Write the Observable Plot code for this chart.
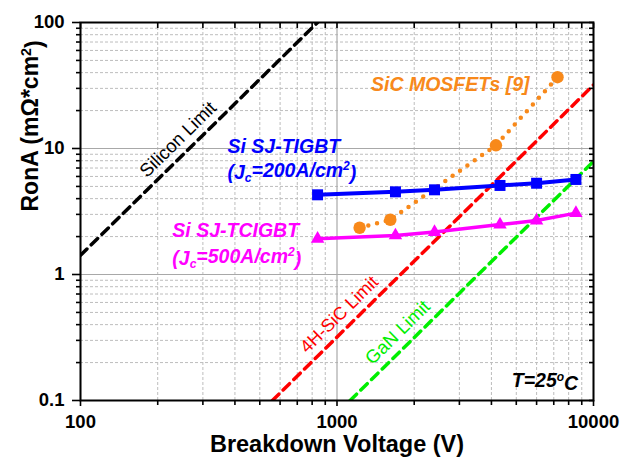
<!DOCTYPE html>
<html>
<head>
<meta charset="utf-8">
<script src="https://cdn.jsdelivr.net/npm/d3@7"></script>
<script src="https://cdn.jsdelivr.net/npm/@observablehq/plot@0.6"></script>
<style>
  html, body { margin: 0; padding: 0; background: #fff; }
  #chart svg { display: block; }
</style>
</head>
<body>
<div id="chart"></div>
<script>
// Breakdown voltage (V) vs. specific on-resistance (mΩ·cm²)

// Si SJ-TIGBT, Jc = 200 A/cm²
const tigbtV   = [840, 1690, 2400, 4320, 6000, 8540];
const tigbtRon = [4.29, 4.53, 4.70, 5.09, 5.30, 5.68];

// Si SJ-TCIGBT, Jc = 500 A/cm²
const tcigbtV   = [840, 1690, 2400, 4320, 6000, 8540];
const tcigbtRon = [1.92, 2.04, 2.17, 2.49, 2.68, 3.07];

// SiC MOSFETs [9]
const mosfetV   = [1225, 1614, 4166, 7239];
const mosfetRon = [2.35, 2.72, 10.6, 36.8];

// Material limits (end points of each straight line on log-log axes)
const siliconV   = [100, 840];
const siliconRon = [1.42, 100];
const sicV       = [560, 10000];
const sicRon     = [0.1, 31.9];
const ganV       = [1125, 10000];
const ganRon     = [0.1, 7.9];

// Tick values
const voltageTicks = [100, 1000, 10000];
const voltageMinor = [200, 300, 400, 500, 600, 700, 800, 900,
                      2000, 3000, 4000, 5000, 6000, 7000, 8000, 9000];
const ronTicks = [0.1, 1, 10, 100];
const ronMinor = [0.2, 0.3, 0.4, 0.5, 0.6, 0.7, 0.8, 0.9,
                  2, 3, 4, 5, 6, 7, 8, 9,
                  20, 30, 40, 50, 60, 70, 80, 90];

const pts = (xs, ys) => xs.map((x, i) => ({x, y: ys[i]}));
const tigbt = pts(tigbtV, tigbtRon);
const tcigbt = pts(tcigbtV, tcigbtRon);
const mosfet = pts(mosfetV, mosfetRon);
const silicon = pts(siliconV, siliconRon);
const sic = pts(sicV, sicRon);
const gan = pts(ganV, ganRon);

const BLUE = "#0000ff", MAGENTA = "#ff00ff", ORANGE = "#f8891a";
const RED = "#ff0000", GREEN = "#00ee00";
const noText = () => "";
const limitStyle = {x: "x", y: "y", strokeWidth: 3.5, strokeDasharray: "9,6", clip: true};
const italicBold = {fontWeight: "bold", fontStyle: "italic", fontSize: 19.5};

const chart = Plot.plot({
  width: 638,
  height: 462,
  marginLeft: 80,
  marginRight: 45,
  marginTop: 22,
  marginBottom: 62,
  style: {fontFamily: "'Liberation Sans', Arial, sans-serif", background: "#fff", color: "#000"},
  x: {type: "log", domain: [100, 10000]},
  y: {type: "log", domain: [0.1, 100]},
  marks: [
    // grid
    Plot.ruleX(voltageMinor, {stroke: "#bdbdbd", strokeDasharray: "3,2"}),
    Plot.ruleY(ronMinor, {stroke: "#bdbdbd", strokeDasharray: "3,2"}),
    Plot.ruleX(voltageTicks, {stroke: "#a8a8a8", strokeWidth: 1.2}),
    Plot.ruleY(ronTicks, {stroke: "#a8a8a8", strokeWidth: 1.2}),

    // material limits
    Plot.line(silicon, {...limitStyle, stroke: "#000"}),
    Plot.line(sic, {...limitStyle, stroke: RED}),
    Plot.line(gan, {...limitStyle, stroke: GREEN}),

    // SiC MOSFETs
    Plot.line(mosfet, {x: "x", y: "y", stroke: ORANGE, strokeWidth: 4.5, strokeDasharray: "0,9", strokeLinecap: "round"}),
    Plot.dot(mosfet, {x: "x", y: "y", r: 6.2, fill: ORANGE}),

    // Si SJ-TIGBT
    Plot.line(tigbt, {x: "x", y: "y", stroke: BLUE, strokeWidth: 4}),
    Plot.dot(tigbt, {x: "x", y: "y", symbol: "square", r: 6.2, fill: BLUE}),

    // Si SJ-TCIGBT
    Plot.line(tcigbt, {x: "x", y: "y", stroke: MAGENTA, strokeWidth: 3.5}),
    Plot.dot(tcigbt, {x: "x", y: "y", symbol: "triangle", r: 5, fill: MAGENTA}),

    // frame and axes
    Plot.frame({stroke: "#000", strokeWidth: 2}),
    Plot.axisX(voltageTicks, {anchor: "bottom", tickSize: 6, tickPadding: 8.5, strokeWidth: 1.6,
      fontSize: 18.5, fontWeight: "bold", tickFormat: d => String(d), label: null}),
    Plot.axisX(voltageMinor, {anchor: "bottom", tickSize: 5, strokeWidth: 1.6, tickFormat: noText, label: null}),
    Plot.axisX([...voltageTicks, ...voltageMinor], {anchor: "top", tickSize: 5, dy: 5, strokeWidth: 1.6, tickFormat: noText, label: null}),
    Plot.axisY(ronTicks, {anchor: "left", tickSize: 8, tickPadding: 8, strokeWidth: 1.6,
      fontSize: 18.5, fontWeight: "bold", tickFormat: d => String(d), label: null}),
    Plot.axisY(ronMinor, {anchor: "left", tickSize: 4, strokeWidth: 1.6, tickFormat: noText, label: null}),
    Plot.axisY([...ronTicks, ...ronMinor], {anchor: "right", tickSize: 5, dx: -5, strokeWidth: 1.6, tickFormat: noText, label: null}),

    // axis titles
    Plot.text(["Breakdown Voltage (V)"], {frameAnchor: "bottom", dy: 51, fontSize: 23.5, fontWeight: "bold"}),
    Plot.text(["RonA (mΩ*cm2)"], {frameAnchor: "left", dx: -50, rotate: -90, fontSize: 23, fontWeight: "bold"}),

    // limit labels
    Plot.text(["Silicon Limit"], {x: 240, y: 11.8, rotate: -44.5, fontSize: 18.5, fill: "#000"}),
    Plot.text(["4H-SiC Limit"], {x: 1021, y: 0.481, rotate: -44.5, fontSize: 18, fill: RED}),
    Plot.text(["GaN Limit"], {x: 1726, y: 0.347, rotate: -44.5, fontSize: 18.5, fill: GREEN}),

    // series labels
    Plot.text(["SiC MOSFETs [9]"], {x: 2764, y: 32.2, ...italicBold, fill: ORANGE}),
    Plot.text(["Si SJ-TIGBT"], {x: 374, y: 10.3, textAnchor: "start", ...italicBold, fill: BLUE}),
    Plot.text(["(Jc=200A/cm2)"], {x: 374, y: 6.45, textAnchor: "start", ...italicBold, fill: BLUE}),
    Plot.text(["Si SJ-TCIGBT"], {x: 228, y: 2.23, textAnchor: "start", ...italicBold, fill: MAGENTA}),
    Plot.text(["(Jc=500A/cm2)"], {x: 228, y: 1.34, textAnchor: "start", ...italicBold, fill: MAGENTA}),
    Plot.text(["T=25oC"], {x: 8718, y: 0.144, textAnchor: "end", ...italicBold, fill: "#000"})
  ]
});

// Rich text: subscripts and superscripts
const svg = d3.select(chart);
function rich(content, parts) {
  svg.selectAll("text").filter(function () { return this.textContent === content; }).each(function () {
    const t = d3.select(this);
    t.text(null);
    for (const [s, kind] of parts) {
      const span = t.append("tspan").text(s);
      if (kind === "sub") span.attr("dy", "0.3em").attr("font-size", "0.62em");
      else if (kind === "sup") span.attr("dy", "-0.5em").attr("font-size", "0.62em");
      else if (kind === "afterSub") span.attr("dy", "-0.3em");
      else if (kind === "afterSup") span.attr("dy", "0.5em");
    }
  });
}
rich("(Jc=200A/cm2)", [["(J"], ["c", "sub"], ["=200A/cm", "afterSub"], ["2", "sup"], [")", "afterSup"]]);
rich("(Jc=500A/cm2)", [["(J"], ["c", "sub"], ["=500A/cm", "afterSub"], ["2", "sup"], [")", "afterSup"]]);
rich("T=25oC", [["T=25"], ["o", "sup"], ["C", "afterSup"]]);
rich("RonA (mΩ*cm2)", [["RonA (mΩ*cm"], ["2", "sup"], [")", "afterSup"]]);

document.getElementById("chart").appendChild(chart);
</script>
</body>
</html>
